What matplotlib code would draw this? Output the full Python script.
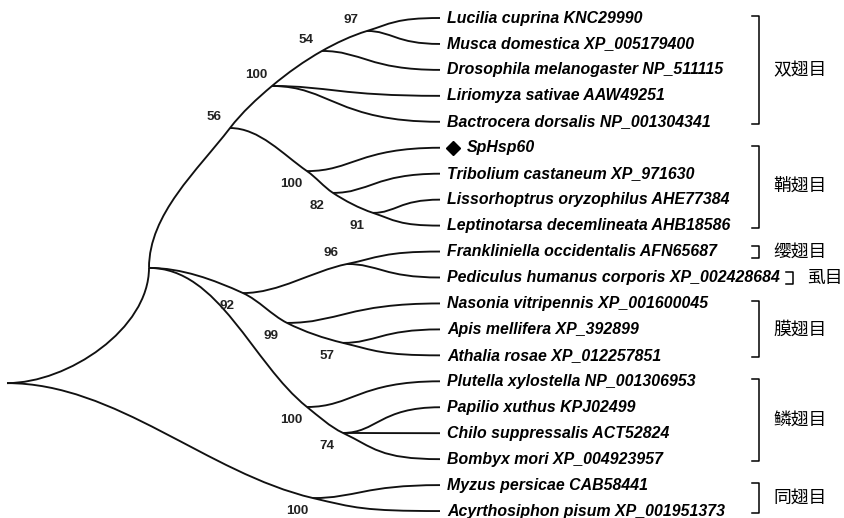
import matplotlib
matplotlib.use("Agg")
import matplotlib.pyplot as plt
import numpy as np
from matplotlib.path import Path
from matplotlib.patches import PathPatch

# ---- data -------------------------------------------------------------
# leaves, top to bottom
LEAVES = [
    "Lucilia cuprina KNC29990",
    "Musca domestica XP_005179400",
    "Drosophila melanogaster NP_511115",
    "Liriomyza sativae AAW49251",
    "Bactrocera dorsalis NP_001304341",
    "SpHsp60",
    "Tribolium castaneum XP_971630",
    "Lissorhoptrus oryzophilus AHE77384",
    "Leptinotarsa decemlineata AHB18586",
    "Frankliniella occidentalis AFN65687",
    "Pediculus humanus corporis XP_002428684",
    "Nasonia vitripennis XP_001600045",
    "Apis mellifera XP_392899",
    "Athalia rosae XP_012257851",
    "Plutella xylostella NP_001306953",
    "Papilio xuthus KPJ02499",
    "Chilo suppressalis ACT52824",
    "Bombyx mori XP_004923957",
    "Myzus persicae CAB58441",
    "Acyrthosiphon pisum XP_001951373",
]
QUERY = "SpHsp60"

# internal nodes: depth (px from left) and row position (in leaf rows)
NODE_NAMES = ["root", "ins", "n56", "dip", "n54", "n97", "col", "n82", "n91",
              "n92", "n96", "n99", "n57", "lep", "n74", "hem"]
NODE_DEPTH = [7, 149, 230, 272, 322, 367, 307, 333, 373,
              243, 347, 287, 343, 307, 343, 313]
NODE_ROW = [14.07, 9.63, 4.24, 2.62, 1.27, 0.50, 5.90, 6.74, 7.51,
            10.60, 9.48, 11.75, 12.52, 14.99, 15.99, 18.50]
NODE_SUPPORT = [None, None, 56, 100, 54, 97, 100, 82, 91,
                92, 96, 99, 57, 100, 74, 100]

# branches drawn as smooth runs through nodes (ints = leaf index)
CHAINS = [
    (["root", "ins"], "h", "v"),
    (["ins", "n56", "dip", "n54", "n97", 0], "v", "h"),
    (["root", "hem", 19], "h", "h"),
    (["ins", "n92", "n99", "n57", 13], "h", "h"),
    (["ins", "lep", "n74", 17], "h", "h"),
    (["n56", "col", "n82", "n91", 8], "h", "h"),
    (["n92", "n96", 9], "h", "h"),
    (["n97", 1], "h", "h"),
    (["n54", 2], "h", "h"),
    (["dip", 3], "h", "h"),
    (["dip", 4], "h", "h"),
    (["col", 5], "h", "h"),
    (["n82", 6], "h", "h"),
    (["n91", 7], "h", "h"),
    (["n96", 10], "h", "h"),
    (["n99", 11], "h", "h"),
    (["n57", 12], "h", "h"),
    (["lep", 14], "h", "h"),
    (["n74", 15], "h", "h"),
    (["n74", 16], "h", "h"),
    (["hem", 18], "h", "h"),
]

ORDERS = ["双翅目", "鞘翅目", "缨翅目", "虱目", "膜翅目", "鳞翅目", "同翅目"]
ORDER_FIRST = [0, 5, 9, 10, 11, 14, 18]
ORDER_LAST = [4, 8, 9, 10, 13, 17, 19]

# ---- layout -----------------------------------------------------------
W, H = 845, 518
ROW0, ROW_H = 18.0, 25.95
LEAF_X = 440
LW = 1.35


def row_y(r):
    return ROW0 + ROW_H * r


def point(key):
    if isinstance(key, int):
        return np.array([LEAF_X, row_y(key)], float)
    i = NODE_NAMES.index(key)
    return np.array([NODE_DEPTH[i], row_y(NODE_ROW[i])], float)


def unit(v):
    return v / np.hypot(*v)


def chain_path(keys, start, end):
    pts = [point(k) for k in keys]
    sgn = np.sign(pts[-1][1] - pts[0][1]) or 1.0
    dirs = []
    for i, p in enumerate(pts):
        if i == 0:
            dirs.append(np.array([1.0, 0.0]) if start == "h" else np.array([0.0, sgn]))
        elif i == len(pts) - 1:
            dirs.append(np.array([1.0, 0.0]) if end == "h" else np.array([0.0, sgn]))
        else:
            dirs.append(unit(unit(p - pts[i - 1]) + unit(pts[i + 1] - p)))
    verts, codes = [pts[0]], [Path.MOVETO]
    for i in range(len(pts) - 1):
        d = np.hypot(*(pts[i + 1] - pts[i]))
        k2 = 0.6 if isinstance(keys[i + 1], int) else 1 / 3
        verts += [pts[i] + dirs[i] * d / 3, pts[i + 1] - dirs[i + 1] * d * k2, pts[i + 1]]
        codes += [Path.CURVE4] * 3
    return Path(verts, codes)


fig = plt.figure(figsize=(W / 100, H / 100), dpi=100)
ax = fig.add_axes([0, 0, 1, 1])
ax.set_xlim(0, W)
ax.set_ylim(H, 0)
ax.axis("off")

for keys, s, e in CHAINS:
    ax.add_patch(PathPatch(chain_path(keys, s, e), fill=False, lw=LW,
                           edgecolor="#111111", capstyle="butt", joinstyle="round"))

# bootstrap values
for name, sup in zip(NODE_NAMES, NODE_SUPPORT):
    if sup is None:
        continue
    for keys, _, _ in CHAINS:
        if name in keys[1:]:
            up = point(keys[-1])[1] < point(keys[0])[1]
            break
    x, y = point(name)
    ax.text(x - 16, y - 11 if up else y + 13, str(sup), ha="center", va="center",
            fontsize=9.6, fontweight="bold", color="#222222",
            family="Liberation Sans")

# leaf labels
leaf_texts = []
for i, name in enumerate(LEAVES):
    y = row_y(i)
    if name == QUERY:
        ax.plot([LEAF_X + 13], [y], marker="D", ms=7.5, color="black")
        tx = LEAF_X + 27
    else:
        tx = LEAF_X + 7
    t = ax.text(tx, y, name, ha="left", va="center", fontsize=11.4,
                fontweight="bold", style="italic", family="Liberation Sans")
    leaf_texts.append(t)

fig.canvas.draw()
renderer = fig.canvas.get_renderer()
inv = ax.transData.inverted()

# order brackets
for label, a, b in zip(ORDERS, ORDER_FIRST, ORDER_LAST):
    right = max(inv.transform(leaf_texts[i].get_window_extent(renderer))[:, 0].max()
                for i in range(a, b + 1))
    bx = max(759, right + 13)
    pad = 6 if a == b else 2
    y0, y1 = row_y(a) - pad, row_y(b) + pad
    ax.plot([bx - 7, bx, bx, bx - 7], [y0, y0, y1, y1], color="black", lw=1.1)
    ax.text(bx + 14, (row_y(a) + row_y(b)) / 2, label, ha="left", va="center",
            fontsize=12.8, family=["Noto Sans CJK SC", "DejaVu Sans"])

fig.savefig("out.png", dpi=100)
